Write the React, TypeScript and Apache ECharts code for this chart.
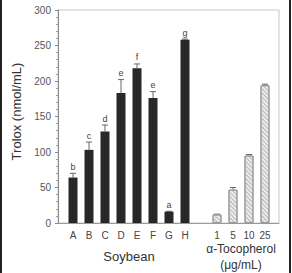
import React, { useEffect, useRef } from "react";
import * as echarts from "echarts";

const soyCats = ["A", "B", "C", "D", "E", "F", "G", "H"];
const soyMeans = [64, 103, 129, 183, 218, 176, 16, 258];
const soyErr = [6, 11, 9, 19, 6, 9, 0.5, 1];
const soyLetters = ["b", "c", "d", "e", "f", "e", "a", "g"];
const tocoCats = ["1", "5", "10", "25"];
const tocoMeans = [12, 47, 95, 194];
const tocoErr = [0.5, 3, 1.5, 1.5];
const yTicks = { min: 0, max: 300, interval: 50 };

export default function App() {
  const ref = useRef<HTMLDivElement>(null);
  useEffect(() => {
    if (!ref.current) return;
    const chart = echarts.init(ref.current, null, { renderer: "svg" });
    const cats = [...soyCats, "", ...tocoCats];
    const soyData = cats.map((_, i) => (i < soyCats.length ? soyMeans[i] : "-"));
    const tocoData = cats.map((_, i) =>
      i > soyCats.length ? tocoMeans[i - soyCats.length - 1] : "-"
    );
    const errData: any[] = [];
    soyCats.forEach((_, i) => errData.push([i, soyMeans[i], soyErr[i], soyLetters[i]]));
    tocoCats.forEach((_, i) =>
      errData.push([i + soyCats.length + 1, tocoMeans[i], tocoErr[i], ""])
    );
    const font = "Liberation Sans, Arial, sans-serif";
    chart.setOption({
      animation: false,
      backgroundColor: "#fff",
      grid: [
        { left: 58, top: 10, width: 221, height: 213, show: true, borderColor: "#c8c8c8", borderWidth: 1 },
        { left: 65, top: 10, width: 208, height: 213 },
      ],
      xAxis: [
        {
          type: "value", gridIndex: 0, min: 0, max: 1,
          axisLine: { show: true, lineStyle: { color: "#9a9a9a" } },
          axisTick: { show: false }, axisLabel: { show: false }, splitLine: { show: false },
        },
        {
          type: "category", gridIndex: 1, data: cats,
          axisLine: { show: false }, axisTick: { show: false },
          axisLabel: { color: "#444", fontSize: 10, fontFamily: font, margin: 7, interval: 0 },
        },
      ],
      yAxis: [
        {
          type: "value", gridIndex: 0, ...yTicks,
          name: "Trolox (nmol/mL)", nameLocation: "middle", nameGap: 35,
          nameTextStyle: { color: "#333", fontSize: 13, fontFamily: font, padding: [0, 0, 0, 10] },
          axisLine: { show: true, lineStyle: { color: "#8a8a8a" } },
          axisTick: { show: true, length: 3, lineStyle: { color: "#8a8a8a" } },
          minorTick: { show: true, splitNumber: 5, length: 2, lineStyle: { color: "#a0a0a0" } },
          axisLabel: { color: "#555", fontSize: 10, fontFamily: font, margin: 7 },
          splitLine: { show: false },
        },
        {
          type: "value", gridIndex: 1, ...yTicks, show: false, splitLine: { show: false },
        },
      ],
      series: [
        {
          type: "bar", xAxisIndex: 1, yAxisIndex: 1, data: soyData,
          barWidth: 9, barGap: "-100%",
          itemStyle: { color: "#282828" },
        },
        {
          type: "bar", xAxisIndex: 1, yAxisIndex: 1, data: tocoData,
          barWidth: 9, barGap: "-100%",
          itemStyle: {
            color: "#ececec", borderColor: "#999", borderWidth: 1,
            decal: {
              symbol: "rect", symbolSize: 1, dashArrayX: [[1, 0]], dashArrayY: [1, 1.5],
              rotation: Math.PI / 4, color: "#b8b8b8",
            },
          },
        },
        {
          type: "custom", xAxisIndex: 1, yAxisIndex: 1, data: errData,
          renderItem: (params: any, api: any) => {
            const x = api.value(0);
            const v = api.value(1);
            const e = api.value(2);
            const letter = errData[params.dataIndex][3];
            const p0 = api.coord([x, v]);
            const p1 = api.coord([x, v + e]);
            const children: any[] = [
              { type: "line", shape: { x1: p0[0], y1: p0[1], x2: p1[0], y2: p1[1] }, style: { stroke: "#666", lineWidth: 1 } },
              { type: "line", shape: { x1: p1[0] - 3, y1: p1[1], x2: p1[0] + 3, y2: p1[1] }, style: { stroke: "#666", lineWidth: 1 } },
            ];
            if (letter) {
              children.push({
                type: "text",
                style: {
                  text: letter, x: p1[0], y: p1[1] - 2, align: "center", verticalAlign: "bottom",
                  fontSize: 9, fontFamily: font, fill: "#444",
                },
              });
            }
            return { type: "group", children };
          },
        },
      ],
      graphic: [
        { type: "rect", left: 0, top: 0, shape: { width: 2, height: 273 }, style: { fill: "#222" } },
        { type: "rect", left: 289, top: 0, shape: { width: 2, height: 273 }, style: { fill: "#222" } },
        {
          type: "text", x: 129, y: 256,
          style: { text: "Soybean", align: "center", verticalAlign: "middle", fontSize: 13, fontFamily: font, fill: "#333" },
        },
        {
          type: "text", x: 241, y: 257,
          style: {
            text: "α-Tocopherol\n(μg/mL)", align: "center", verticalAlign: "middle",
            fontSize: 12, lineHeight: 16, fontFamily: font, fill: "#333",
          },
        },
      ],
    });
    return () => chart.dispose();
  }, []);
  return (
    <div
      ref={ref}
      style={{ position: "absolute", left: 0, top: 0, width: 292, height: 273, background: "#fff" }}
    />
  );
}
